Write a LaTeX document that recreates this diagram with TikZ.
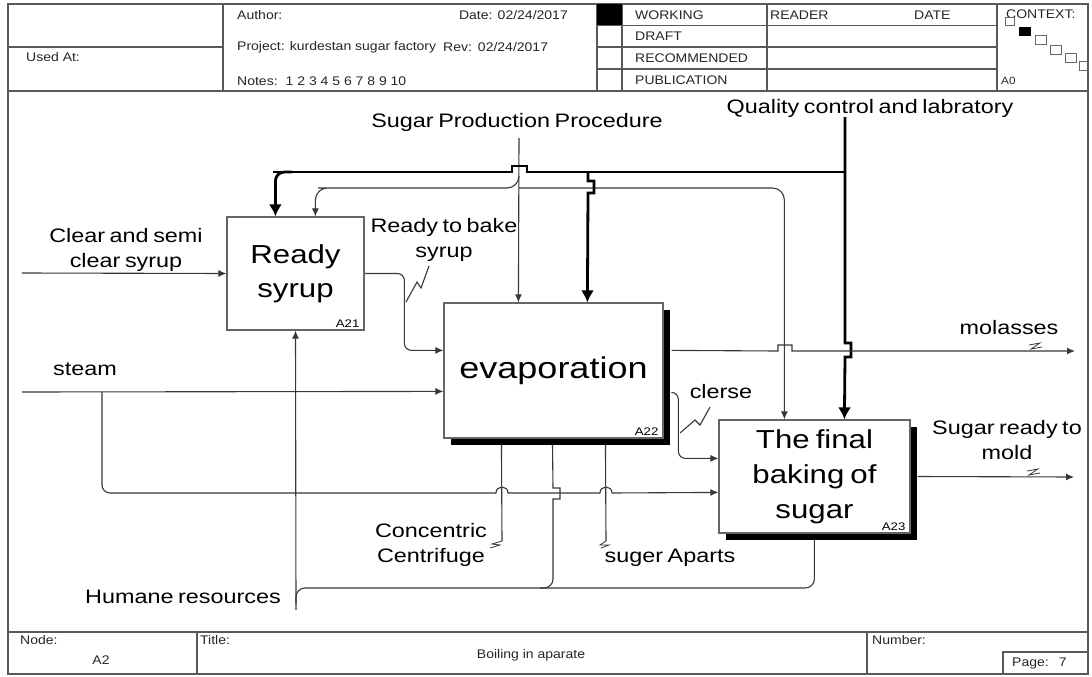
\documentclass[tikz,border=0pt]{standalone}
\usepackage{fontspec}
\setmainfont{Liberation Sans}[FakeStretch=1.2,WordSpace=0.7]
\newfontfamily\formfont{Liberation Sans}[FakeStretch=1.12]
\usetikzlibrary{arrows.meta,shadows}
\pgfdeclarelayer{wires}
\pgfsetlayers{wires,main}
\definecolor{ink}{gray}{0.22}
\definecolor{rulegray}{gray}{0.35}
\definecolor{edgegray}{gray}{0.4}
\newcommand{\fsz}[2]{\fontsize{#1}{#2}\selectfont}
\tikzset{
  proc/.style={draw=edgegray, line width=1.2pt, fill=white, inner sep=0, align=center, text=black},
  shadowed/.style={general shadow={fill=black, shadow xshift=7pt, shadow yshift=-7pt}},
  wire/.style={draw=ink, line width=1.1pt},
  wirearrow/.style={wire, -{Latex[length=8pt,width=7pt]}},
  boldwire/.style={draw=black, line width=2.8pt},
  boldarrow/.style={boldwire, -{Latex[length=12pt,width=13pt]}},
  flowtext/.style={font=\fsz{19.5}{25}, align=center, inner sep=0, text=black},
  boxid/.style={font=\fsz{11}{12}, inner sep=0, anchor=south east},
  hdr/.style={font=\formfont\fsz{12.5}{15}, inner sep=0, anchor=west, text=black!85},
  rim/.style={draw=rulegray, line width=1.2pt},
}
\begin{document}
\begin{tikzpicture}[x=1pt,y=-1pt]
\useasboundingbox (0,0) rectangle (1092,677);

% ---------- form frame ----------
\draw[rim] (8,4) rectangle (1088,674);
\draw[rim] (8,91) -- (1088,91);
\draw[rim] (8,632) -- (1088,632);
% header cells
\draw[rim] (223,4) -- (223,91);
\draw[rim] (8,47) -- (223,47);
\draw[rim] (597,4) -- (597,91);
\draw[rim] (622,4) -- (622,91);
\draw[rim] (767,4) -- (767,91);
\draw[rim] (997,4) -- (997,91);
\draw[rim] (597,25.5) -- (997,25.5);
\draw[rim] (597,47) -- (997,47);
\draw[rim] (597,69) -- (997,69);
\fill[black] (597,4) rectangle (622,25.5);
% footer cells
\draw[rim] (197,632) -- (197,674);
\draw[rim] (867,632) -- (867,674);
\draw[rim] (1003,652) rectangle (1088,674);

% header text
\node[hdr] (usedat) at (26,57) {Used At:};
\node[hdr] (author) at (237,15) {Author:};
\node[hdr,anchor=east] (date) at (568,15) {Date: 02/24/2017};
\node[hdr] (project) at (237,47) {Project: kurdestan sugar factory};
\node[hdr] (rev) at (443,47) {Rev:\hspace{6pt}02/24/2017};
\node[hdr] (notes) at (237,81) {Notes:\hspace{8pt}1 2 3 4 5 6 7 8 9 10};
\node[hdr] (working) at (635,15) {WORKING};
\node[hdr] (draft) at (635,36.5) {DRAFT};
\node[hdr] (recommended) at (635,58) {RECOMMENDED};
\node[hdr] (publication) at (635,80) {PUBLICATION};
\node[hdr] (reader) at (770,15) {READER};
\node[hdr] (rdate) at (914,15) {DATE};
\node[hdr] (context) at (1006,14) {CONTEXT:};
\node[hdr,font=\formfont\fsz{10.5}{12}] (a0) at (1001,81) {A0};
% context map
\draw[edgegray,line width=0.9pt] (1005,17) rectangle (1014,25);
\fill[black] (1019,27) rectangle (1031,36);
\draw[edgegray,line width=0.9pt] (1035,35) rectangle (1046,44);
\draw[edgegray,line width=0.9pt] (1050,45) rectangle (1061,54);
\draw[edgegray,line width=0.9pt] (1065,53) rectangle (1076,62);
\draw[edgegray,line width=0.9pt] (1079,61) rectangle (1088,70);

% footer text
\node[hdr] (nodelbl) at (20,640) {Node:};
\node[hdr,anchor=center] (nodeval) at (101,660) {A2};
\node[hdr] (titlelbl) at (200,640) {Title:};
\node[hdr,anchor=center] (titleval) at (531,655) {Boiling in aparate};
\node[hdr] (numberlbl) at (872,640) {Number:};
\node[hdr] (page) at (1012,663) {Page:\hspace{10pt}7};

% ---------- activity boxes ----------
\node[proc, minimum width=137pt, minimum height=113pt, font=\fsz{26}{34}]
  (A21) at (295.5,273.5) {Ready\\syrup};
\node[proc, shadowed, minimum width=219pt, minimum height=135pt, font=\fsz{30}{36}]
  (A22) at (553.5,370.5) {evaporation};
\node[proc, shadowed, minimum width=191pt, minimum height=113pt, font=\fsz{26}{35}]
  (A23) at (814.5,476.5) {The final\\baking of\\sugar};
\node[boxid] (A21id) at ([xshift=-5pt,yshift=3pt]A21.south east) {A21};
\node[boxid] (A22id) at ([xshift=-5pt,yshift=3pt]A22.south east) {A22};
\node[boxid] (A23id) at ([xshift=-5pt,yshift=3pt]A23.south east) {A23};

% ---------- arrow labels ----------
\node[flowtext] (lclear) at (126,250) {Clear and semi\\clear syrup};
\node[flowtext] (lsteam) at (85,369) {steam};
\node[flowtext] (lrtb) at (444,240) {Ready to bake\\syrup};
\node[flowtext] (lproc) at (517,122) {Sugar Production Procedure};
\node[flowtext] (lqc) at (870,108) {Quality control and labratory};
\node[flowtext] (lmol) at (1009,328) {molasses};
\node[flowtext] (lclerse) at (721,392) {clerse};
\node[flowtext] (lsug) at (1007,440) {Sugar ready to\\mold};
\node[flowtext] (lcc) at (431,545) {Concentric\\Centrifuge};
\node[flowtext] (lsa) at (670,558) {suger Aparts};
\node[flowtext] (lhr) at (183,597) {Humane resources};

% ---------- free ends of the arrows ----------
\coordinate (syrupin) at (22,273);
\coordinate (steamin) at (22,392);
\coordinate (steamtap) at (102,392);
\coordinate (procin) at (519,138);
\coordinate (qcin) at (845,117);
\coordinate (hrin) at (296,610);
\coordinate (molout) at (1075,351);
\coordinate (sugout) at (1074,477);
\coordinate (ccend) at (502,541);
\coordinate (saend) at (606,541);

\begin{pgfonlayer}{wires}
% ---------- controls ----------
% Sugar Production Procedure (thin)
\draw[wirearrow] (procin) -- ([xshift=75pt]A22.north west);
\draw[wirearrow, rounded corners=12pt] (519,176) |- (330,188) -| ([xshift=89pt]A21.north west);
\draw[wirearrow, rounded corners=12pt] (519,188) -| ([xshift=66pt]A23.north west);
% Quality control and labratory (bold)
\draw[boldwire] (273,172) -- (512,172) -- (512,166) -- (527,166) -- (527,172) -- (845,172);
\draw[boldarrow, rounded corners=9pt] (292,172) -| ([xshift=49pt]A21.north west);
\draw[boldarrow] (588,172) -- (588,181) -- (594,181) -- (594,193) -- (588,193)
  -- ([xshift=144pt]A22.north west);
\draw[boldarrow] (qcin) -- (845,343) -- (851,343) -- (851,357) -- (845,357)
  -- ([xshift=126pt]A23.north west);

% ---------- inputs ----------
\draw[wirearrow] (syrupin) -- (A21.west);
\draw[wirearrow] (steamin) -- ([yshift=-89pt]A22.north west);
\draw[wirearrow] (steamtap) [rounded corners=8pt] |- (300,493) [sharp corners]
  -- (496,493) .. controls (496,485) and (508,485) .. (508,493)
  -- (600,493) .. controls (600,485) and (612,485) .. (612,493)
  -- ([yshift=-73pt]A23.north west);
\draw[wirearrow, rounded corners=7pt] (A21.east)
  -| ([xshift=-39pt,yshift=-48pt]A22.north west) -- ([yshift=-48pt]A22.north west);
\draw[wirearrow, rounded corners=7pt] ([xshift=8pt,yshift=-90pt]A22.north east)
  -| ([xshift=-40pt,yshift=-39pt]A23.north west) -- ([yshift=-39pt]A23.north west);

% ---------- outputs ----------
\draw[wirearrow] ([xshift=8pt,yshift=-48pt]A22.north east) -- (778,351) -- (778,345)
  -- (792,345) -- (792,351) -- (molout);
\draw[wirearrow] ([xshift=7pt]A23.east) -- (sugout);

% ---------- mechanisms ----------
\draw[wirearrow] (hrin) -- (A21.south);
\draw[wirearrow] (296,604) [rounded corners=9pt] |- (553,588) -- (553,540) [sharp corners]
  -- (553,499) -- (560,499) -- (560,488) -- (553,488)
  -- ([xshift=109pt,yshift=3pt]A22.south west);
\draw[wirearrow] (540,588) [rounded corners=9pt] -| ([xshift=96pt,yshift=2pt]A23.south west);
\draw[wirearrow] (ccend) -- ([xshift=58pt,yshift=3pt]A22.south west);
\draw[wirearrow] (saend) -- ([xshift=162pt,yshift=3pt]A22.south west);

% ---------- label leaders ----------
\draw[wire] (429,266) -- (421,288) -- (417,282) -- (406,302);
\draw[wire] (710,407) -- (700,425) -- (695,420) -- (680,433);
\draw[wire, line width=0.8pt] (1029,345) -- (1040,343) -- (1031,349) -- (1042,347);
\draw[wire, line width=0.8pt] (1027,471) -- (1038,469) -- (1029,475) -- (1040,473);
\draw[wire, line width=0.8pt] (ccend) -- (492,544) -- (500,545) -- (490,548);
\draw[wire, line width=0.8pt] (saend) -- (600,545) -- (609,545) -- (601,548);
\end{pgfonlayer}
\end{tikzpicture}
\end{document}
